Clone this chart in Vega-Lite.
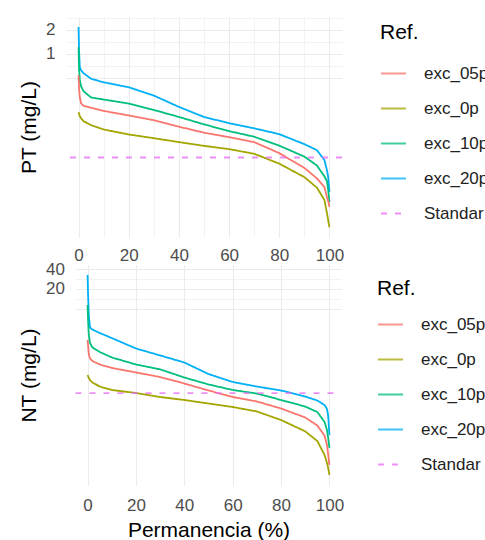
{
  "$schema": "https://vega.github.io/schema/vega-lite/v6.json",
  "padding": {"left": 18, "top": 17, "right": 0, "bottom": 0},
  "spacing": -3,
  "datasets": {
    "pt": [
      {"pct":0,"value":2.15,"ref":"exc_20p"},{"pct":0.2,"value":1.10,"ref":"exc_20p"},{"pct":0.5,"value":0.674,"ref":"exc_20p"},{"pct":1,"value":0.618,"ref":"exc_20p"},{"pct":2,"value":0.567,"ref":"exc_20p"},{"pct":5,"value":0.484,"ref":"exc_20p"},{"pct":10,"value":0.437,"ref":"exc_20p"},{"pct":20,"value":0.379,"ref":"exc_20p"},{"pct":30,"value":0.298,"ref":"exc_20p"},{"pct":40,"value":0.215,"ref":"exc_20p"},{"pct":50,"value":0.161,"ref":"exc_20p"},{"pct":60,"value":0.1345,"ref":"exc_20p"},{"pct":70,"value":0.116,"ref":"exc_20p"},{"pct":80,"value":0.098,"ref":"exc_20p"},{"pct":90,"value":0.0735,"ref":"exc_20p"},{"pct":95,"value":0.0618,"ref":"exc_20p"},{"pct":98,"value":0.0464,"ref":"exc_20p"},{"pct":99,"value":0.0348,"ref":"exc_20p"},{"pct":99.5,"value":0.0284,"ref":"exc_20p"},{"pct":100,"value":0.0185,"ref":"exc_20p"},
      {"pct":0,"value":1.2,"ref":"exc_10p"},{"pct":0.2,"value":0.655,"ref":"exc_10p"},{"pct":0.5,"value":0.464,"ref":"exc_10p"},{"pct":1,"value":0.39,"ref":"exc_10p"},{"pct":2,"value":0.338,"ref":"exc_10p"},{"pct":5,"value":0.282,"ref":"exc_10p"},{"pct":10,"value":0.266,"ref":"exc_10p"},{"pct":20,"value":0.237,"ref":"exc_10p"},{"pct":30,"value":0.197,"ref":"exc_10p"},{"pct":40,"value":0.161,"ref":"exc_10p"},{"pct":50,"value":0.13,"ref":"exc_10p"},{"pct":60,"value":0.107,"ref":"exc_10p"},{"pct":70,"value":0.091,"ref":"exc_10p"},{"pct":80,"value":0.0704,"ref":"exc_10p"},{"pct":90,"value":0.0513,"ref":"exc_10p"},{"pct":95,"value":0.0398,"ref":"exc_10p"},{"pct":98,"value":0.029,"ref":"exc_10p"},{"pct":99,"value":0.0253,"ref":"exc_10p"},{"pct":99.5,"value":0.0196,"ref":"exc_10p"},{"pct":100,"value":0.0138,"ref":"exc_10p"},
      {"pct":0,"value":0.535,"ref":"exc_05p"},{"pct":0.2,"value":0.368,"ref":"exc_05p"},{"pct":0.5,"value":0.284,"ref":"exc_05p"},{"pct":1,"value":0.239,"ref":"exc_05p"},{"pct":2,"value":0.2226,"ref":"exc_05p"},{"pct":5,"value":0.21,"ref":"exc_05p"},{"pct":10,"value":0.1916,"ref":"exc_05p"},{"pct":20,"value":0.168,"ref":"exc_05p"},{"pct":30,"value":0.1466,"ref":"exc_05p"},{"pct":40,"value":0.1216,"ref":"exc_05p"},{"pct":50,"value":0.1023,"ref":"exc_05p"},{"pct":60,"value":0.0899,"ref":"exc_05p"},{"pct":70,"value":0.0779,"ref":"exc_05p"},{"pct":80,"value":0.0567,"ref":"exc_05p"},{"pct":90,"value":0.0371,"ref":"exc_05p"},{"pct":95,"value":0.0274,"ref":"exc_05p"},{"pct":98,"value":0.0213,"ref":"exc_05p"},{"pct":99,"value":0.016,"ref":"exc_05p"},{"pct":99.5,"value":0.0143,"ref":"exc_05p"},{"pct":100,"value":0.012,"ref":"exc_05p"},
      {"pct":0,"value":0.1845,"ref":"exc_0p"},{"pct":0.5,"value":0.1645,"ref":"exc_0p"},{"pct":1,"value":0.1553,"ref":"exc_0p"},{"pct":2,"value":0.1425,"ref":"exc_0p"},{"pct":5,"value":0.127,"ref":"exc_0p"},{"pct":10,"value":0.1122,"ref":"exc_0p"},{"pct":20,"value":0.0972,"ref":"exc_0p"},{"pct":30,"value":0.0873,"ref":"exc_0p"},{"pct":40,"value":0.078,"ref":"exc_0p"},{"pct":50,"value":0.07,"ref":"exc_0p"},{"pct":60,"value":0.0637,"ref":"exc_0p"},{"pct":70,"value":0.0557,"ref":"exc_0p"},{"pct":80,"value":0.0419,"ref":"exc_0p"},{"pct":90,"value":0.0284,"ref":"exc_0p"},{"pct":95,"value":0.021,"ref":"exc_0p"},{"pct":98,"value":0.0147,"ref":"exc_0p"},{"pct":99,"value":0.0101,"ref":"exc_0p"},{"pct":99.5,"value":0.0082,"ref":"exc_0p"},{"pct":100,"value":0.0067,"ref":"exc_0p"},
      {"value":0.05,"ref":"Standar"}
    ],
    "nt": [
      {"pct":0,"value":32.8,"ref":"exc_20p"},{"pct":0.2,"value":16.2,"ref":"exc_20p"},{"pct":0.5,"value":7.96,"ref":"exc_20p"},{"pct":1,"value":5.11,"ref":"exc_20p"},{"pct":2,"value":4.76,"ref":"exc_20p"},{"pct":5,"value":4.21,"ref":"exc_20p"},{"pct":10,"value":3.52,"ref":"exc_20p"},{"pct":20,"value":2.43,"ref":"exc_20p"},{"pct":30,"value":1.9,"ref":"exc_20p"},{"pct":40,"value":1.48,"ref":"exc_20p"},{"pct":50,"value":0.984,"ref":"exc_20p"},{"pct":60,"value":0.742,"ref":"exc_20p"},{"pct":70,"value":0.632,"ref":"exc_20p"},{"pct":80,"value":0.549,"ref":"exc_20p"},{"pct":90,"value":0.444,"ref":"exc_20p"},{"pct":95,"value":0.385,"ref":"exc_20p"},{"pct":98,"value":0.328,"ref":"exc_20p"},{"pct":99,"value":0.285,"ref":"exc_20p"},{"pct":99.5,"value":0.222,"ref":"exc_20p"},{"pct":100,"value":0.113,"ref":"exc_20p"},
      {"pct":0,"value":11.35,"ref":"exc_10p"},{"pct":0.2,"value":6.67,"ref":"exc_10p"},{"pct":0.5,"value":3.92,"ref":"exc_10p"},{"pct":1,"value":2.95,"ref":"exc_10p"},{"pct":2,"value":2.52,"ref":"exc_10p"},{"pct":5,"value":2.15,"ref":"exc_10p"},{"pct":10,"value":1.77,"ref":"exc_10p"},{"pct":20,"value":1.38,"ref":"exc_10p"},{"pct":30,"value":1.16,"ref":"exc_10p"},{"pct":40,"value":0.87,"ref":"exc_10p"},{"pct":50,"value":0.68,"ref":"exc_10p"},{"pct":60,"value":0.559,"ref":"exc_10p"},{"pct":70,"value":0.493,"ref":"exc_10p"},{"pct":80,"value":0.392,"ref":"exc_10p"},{"pct":90,"value":0.311,"ref":"exc_10p"},{"pct":95,"value":0.256,"ref":"exc_10p"},{"pct":98,"value":0.18,"ref":"exc_10p"},{"pct":99,"value":0.135,"ref":"exc_10p"},{"pct":99.5,"value":0.102,"ref":"exc_10p"},{"pct":100,"value":0.0716,"ref":"exc_10p"},
      {"pct":0,"value":3.28,"ref":"exc_05p"},{"pct":0.5,"value":2.0,"ref":"exc_05p"},{"pct":1,"value":1.71,"ref":"exc_05p"},{"pct":2,"value":1.56,"ref":"exc_05p"},{"pct":5,"value":1.38,"ref":"exc_05p"},{"pct":10,"value":1.22,"ref":"exc_05p"},{"pct":20,"value":1.04,"ref":"exc_05p"},{"pct":30,"value":0.885,"ref":"exc_05p"},{"pct":40,"value":0.703,"ref":"exc_05p"},{"pct":50,"value":0.549,"ref":"exc_05p"},{"pct":60,"value":0.436,"ref":"exc_05p"},{"pct":70,"value":0.372,"ref":"exc_05p"},{"pct":80,"value":0.29,"ref":"exc_05p"},{"pct":90,"value":0.211,"ref":"exc_05p"},{"pct":95,"value":0.159,"ref":"exc_05p"},{"pct":98,"value":0.111,"ref":"exc_05p"},{"pct":99,"value":0.0796,"ref":"exc_05p"},{"pct":99.5,"value":0.0559,"ref":"exc_05p"},{"pct":100,"value":0.0392,"ref":"exc_05p"},
      {"pct":0,"value":0.951,"ref":"exc_0p"},{"pct":0.5,"value":0.855,"ref":"exc_0p"},{"pct":1,"value":0.796,"ref":"exc_0p"},{"pct":2,"value":0.729,"ref":"exc_0p"},{"pct":5,"value":0.632,"ref":"exc_0p"},{"pct":10,"value":0.559,"ref":"exc_0p"},{"pct":20,"value":0.502,"ref":"exc_0p"},{"pct":30,"value":0.436,"ref":"exc_0p"},{"pct":40,"value":0.392,"ref":"exc_0p"},{"pct":50,"value":0.346,"ref":"exc_0p"},{"pct":60,"value":0.306,"ref":"exc_0p"},{"pct":70,"value":0.261,"ref":"exc_0p"},{"pct":80,"value":0.193,"ref":"exc_0p"},{"pct":90,"value":0.129,"ref":"exc_0p"},{"pct":95,"value":0.0918,"ref":"exc_0p"},{"pct":98,"value":0.0559,"ref":"exc_0p"},{"pct":99,"value":0.042,"ref":"exc_0p"},{"pct":99.5,"value":0.0352,"ref":"exc_0p"},{"pct":100,"value":0.0275,"ref":"exc_0p"},
      {"value":0.5,"ref":"Standar"}
    ]
  },
  "vconcat": [
    {
      "width": 276,
      "height": 220,
      "data": {"name": "pt"},
      "layer": [
        {
          "transform": [{"filter": "datum.ref !== 'Standar'"}],
          "mark": {"type": "line", "strokeWidth": 1.8},
          "encoding": {
            "x": {"field": "pct", "type": "quantitative",
              "scale": {"domain": [-5, 105], "nice": false, "zero": false},
              "axis": {"title": null, "values": [0,10,20,30,40,50,60,70,80,90,100],
                "labelExpr": "datum.value % 20 === 0 ? datum.label : ''",
                "labelFlush": false, "labelPadding": 10,
                "gridWidth": {"condition": {"test": "datum.value % 20 === 0", "value": 1.1}, "value": 0.6}}},
            "y": {"field": "value", "type": "quantitative",
              "scale": {"type": "log", "domain": [0.00506, 2.87], "nice": false},
              "axis": {"title": "PT (mg/L)", "values": [0.5, 0.7071, 1, 1.4142, 2, 2.8284],
                "format": "~g",
                "labelExpr": "datum.value === 1 || datum.value === 2 ? datum.label : ''",
                "labelPadding": 11, "titlePadding": 6,
                "gridWidth": {"condition": {"test": "datum.value === 0.5 || datum.value === 1 || datum.value === 2", "value": 1.1}, "value": 0.6}}},
            "color": {"field": "ref", "type": "nominal", "title": "Ref.",
              "scale": {"domain": ["exc_05p","exc_0p","exc_10p","exc_20p","Standar"], "range": ["#F8766D","#A3A500","#00BF7D","#00B0F6","#E76BF3"]},
              "legend": {"offset": 33, "padding": 5, "titlePadding": 17}},
            "strokeDash": {"field": "ref", "type": "nominal", "title": "Ref.",
              "scale": {"domain": ["exc_05p","exc_0p","exc_10p","exc_20p","Standar"], "range": [[1,0],[1,0],[1,0],[1,0],[6,8]]},
              "legend": {"offset": 33, "padding": 5, "titlePadding": 17}}
          }
        },
        {
          "transform": [{"filter": "datum.ref === 'Standar'"}],
          "mark": {"type": "rule", "strokeWidth": 1.8, "opacity": 0.75},
          "encoding": {
            "y": {"field": "value", "type": "quantitative"},
            "color": {"field": "ref", "type": "nominal", "title": "Ref."},
            "strokeDash": {"field": "ref", "type": "nominal", "title": "Ref."}
          }
        }
      ]
    },
    {
      "width": 275.5,
      "height": 220,
      "data": {"name": "nt"},
      "layer": [
        {
          "transform": [{"filter": "datum.ref !== 'Standar'"}],
          "mark": {"type": "line", "strokeWidth": 1.8},
          "encoding": {
            "x": {"field": "pct", "type": "quantitative",
              "scale": {"domain": [-5, 105], "range": [9.5, 275.5], "nice": false, "zero": false},
              "axis": {"title": "Permanencia (%)", "values": [0,10,20,30,40,50,60,70,80,90,100],
                "labelExpr": "datum.value % 20 === 0 ? datum.label : ''",
                "labelFlush": false, "labelPadding": 12, "titlePadding": 6, "titleX": 142.5,
                "gridWidth": {"condition": {"test": "datum.value % 20 === 0", "value": 1.1}, "value": 0.6}}},
            "y": {"field": "value", "type": "quantitative",
              "scale": {"type": "log", "domain": [0.0193, 46.8], "nice": false},
              "axis": {"title": "NT (mg/L)", "values": [10, 14.142, 20, 28.284, 40],
                "format": "~g", "offset": -9.5,
                "labelExpr": "datum.value === 20 || datum.value === 40 ? datum.label : ''",
                "labelPadding": 11, "titlePadding": 6,
                "gridWidth": {"condition": {"test": "datum.value === 10 || datum.value === 20 || datum.value === 40", "value": 1.1}, "value": 0.6}}},
            "color": {"field": "ref", "type": "nominal", "title": "Ref.",
              "scale": {"domain": ["exc_05p","exc_0p","exc_10p","exc_20p","Standar"], "range": ["#F8766D","#A3A500","#00BF7D","#00B0F6","#E76BF3"]},
              "legend": {"offset": 22, "padding": 13, "titlePadding": 12}},
            "strokeDash": {"field": "ref", "type": "nominal", "title": "Ref.",
              "scale": {"domain": ["exc_05p","exc_0p","exc_10p","exc_20p","Standar"], "range": [[1,0],[1,0],[1,0],[1,0],[6,8]]},
              "legend": {"offset": 22, "padding": 13, "titlePadding": 12}}
          }
        },
        {
          "transform": [{"filter": "datum.ref === 'Standar'"}],
          "mark": {"type": "rule", "strokeWidth": 1.8, "opacity": 0.75},
          "encoding": {
            "x": {"datum": -5, "type": "quantitative"},
            "x2": {"datum": 105},
            "y": {"field": "value", "type": "quantitative"},
            "color": {"field": "ref", "type": "nominal", "title": "Ref."},
            "strokeDash": {"field": "ref", "type": "nominal", "title": "Ref."}
          }
        }
      ]
    }
  ],
  "resolve": {
    "scale": {"color": "independent", "strokeDash": "independent"},
    "legend": {"color": "independent", "strokeDash": "independent"}
  },
  "config": {
    "font": "Liberation Sans",
    "view": {"stroke": null},
    "axis": {"domain": false, "ticks": false, "gridColor": "#EBEBEB", "labelColor": "#4D4D4D", "labelFontSize": 17, "titleFontSize": 21, "titleFontWeight": "normal", "titleColor": "#000000"},
    "legend": {"titleFontSize": 21, "titleFontWeight": "normal", "titleColor": "#000000", "labelFontSize": 17, "labelColor": "#222222", "symbolType": "stroke", "symbolSize": 625, "symbolStrokeWidth": 1.8, "rowPadding": 13, "labelOffset": 17}
  }
}
